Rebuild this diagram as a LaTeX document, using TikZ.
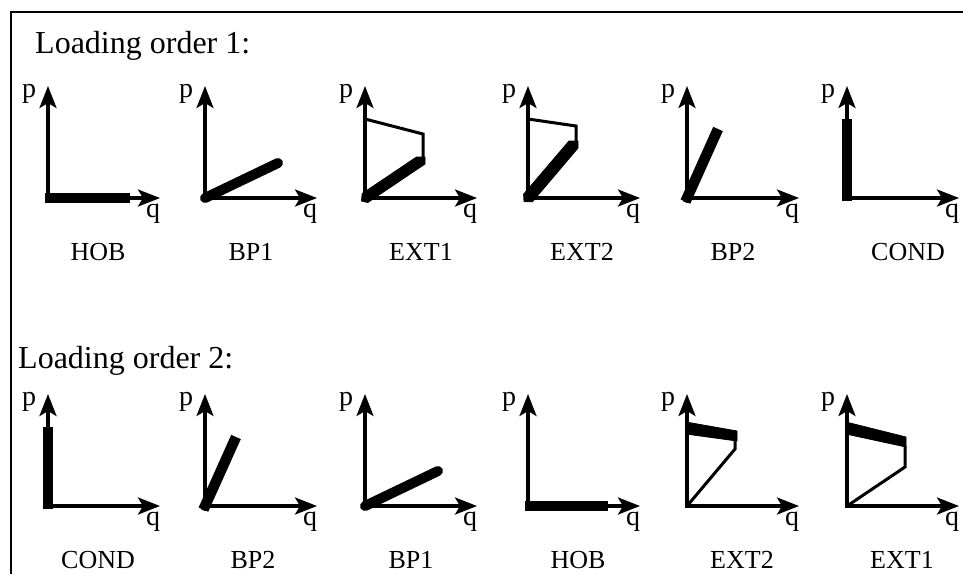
\documentclass[tikz,border=0pt]{standalone}
\usepackage{fontspec}
\setmainfont{Liberation Serif}
\usetikzlibrary{arrows.meta}

% p-q axes at the local origin; #1 prefixes the names
\newcommand{\pqaxes}[1]{%
  \coordinate (#1o) at (0,0);
  \coordinate (#1p) at (0,-112);
  \coordinate (#1q) at (112,0);
  \draw[axis] (#1p) -- (#1o) -- (#1q);
  \node[axlbl] (#1pl) at (-19,-104) {p};
  \node[axlbl] (#1ql) at (105,16) {q};
}

\begin{document}
\begin{tikzpicture}[x=1pt,y=-1pt,
  axis/.style={line width=3.2pt,{Stealth[length=22pt,width=17pt,inset=5pt]}-{Stealth[length=22pt,width=17pt,inset=5pt]},line join=miter},
  thinpath/.style={line width=3pt,line join=miter},
  load/.style={line width=10.5pt},
  band/.style={fill=black,draw=black,line width=0.8pt,line join=round},
  axlbl/.style={font=\fontsize{28}{28}\selectfont,inner sep=0pt},
  caption/.style={font=\fontsize{26}{26}\selectfont,anchor=base,inner sep=0pt},
  heading/.style={font=\fontsize{32}{32}\selectfont,anchor=base west,inner sep=0pt}]

\useasboundingbox (0,0) rectangle (963,574);
\fill[white] (0,0) rectangle (963,574);

% frame
\coordinate (fb) at (11,574);
\coordinate (fc) at (11,12);
\coordinate (fr) at (963,12);
\draw[line width=2.8pt] (fb) -- (fc) -- (fr);

\node[heading] (t1) at (35,53) {Loading order 1:};
\node[heading] (t2) at (18,368) {Loading order 2:};

% ---------- loading order 1 ----------
\begin{scope}[shift={(48,198)}]
  \pqaxes{a1}
  \draw[load] (-3,0) -- (82,0);
  \node[caption] (c1) at (50,62) {HOB};
\end{scope}

\begin{scope}[shift={(205,198)}]
  \pqaxes{a2}
  \draw[load,line width=10pt,line cap=round] (0,0) -- (73,-35);
  \node[caption] (c2) at (46,62) {BP1};
\end{scope}

\begin{scope}[shift={(365,198)}]
  \pqaxes{a3}
  \draw[thinpath] (58,-39) -- (58,-64) -- (0,-79);
  \fill[band] (-3.5,3) -- (-2.8,-4.5) -- (51.5,-41) -- (60,-41) -- (60,-34) -- (2.8,4.5) -- cycle;
  \node[caption] (c3) at (56,62) {EXT1};
\end{scope}

\begin{scope}[shift={(528,198)}]
  \pqaxes{a4}
  \draw[thinpath] (48,-56) -- (48,-72) -- (0,-79);
  \fill[band] (-4,3.5) -- (-4.4,-3.8) -- (41,-57) -- (50,-57) -- (50,-50) -- (4.4,3.8) -- cycle;
  \node[caption] (c4) at (54,62) {EXT2};
\end{scope}

\begin{scope}[shift={(687,198)}]
  \pqaxes{a5}
  \draw[load] (-1.6,3.6) -- (31,-69);
  \fill (0,0) circle (5);
  \node[caption] (c5) at (46,62) {BP2};
\end{scope}

\begin{scope}[shift={(847,198)}]
  \pqaxes{a6}
  \draw[load] (0,3) -- (0,-79);
  \node[caption] (c6) at (61,62) {COND};
\end{scope}

% ---------- loading order 2 ----------
\begin{scope}[shift={(48,506)}]
  \pqaxes{b1}
  \draw[load] (0,3) -- (0,-79);
  \node[caption] (d1) at (50,62) {COND};
\end{scope}

\begin{scope}[shift={(205,506)}]
  \pqaxes{b2}
  \draw[load] (-1.6,3.6) -- (31,-69);
  \fill (0,0) circle (5);
  \node[caption] (d2) at (48,62) {BP2};
\end{scope}

\begin{scope}[shift={(365,506)}]
  \pqaxes{b3}
  \draw[load,line width=10pt,line cap=round] (0,0) -- (73,-35);
  \node[caption] (d3) at (46,62) {BP1};
\end{scope}

\begin{scope}[shift={(528,506)}]
  \pqaxes{b4}
  \draw[load] (-3,0) -- (80,0);
  \node[caption] (d4) at (50,62) {HOB};
\end{scope}

\begin{scope}[shift={(687,506)}]
  \pqaxes{b5}
  \draw[thinpath] (0,0) -- (48,-57) -- (48,-66);
  \fill[band] (-1,-84) -- (50,-75) -- (50,-65) -- (-1,-72) -- cycle;
  \node[caption] (d5) at (55,62) {EXT2};
\end{scope}

\begin{scope}[shift={(847,506)}]
  \pqaxes{b6}
  \draw[thinpath] (0,0) -- (58,-39) -- (58,-60);
  \fill[band] (-1,-84) -- (59,-69) -- (59,-59) -- (-1,-72) -- cycle;
  \node[caption] (d6) at (55,62) {EXT1};
\end{scope}

\end{tikzpicture}
\end{document}
